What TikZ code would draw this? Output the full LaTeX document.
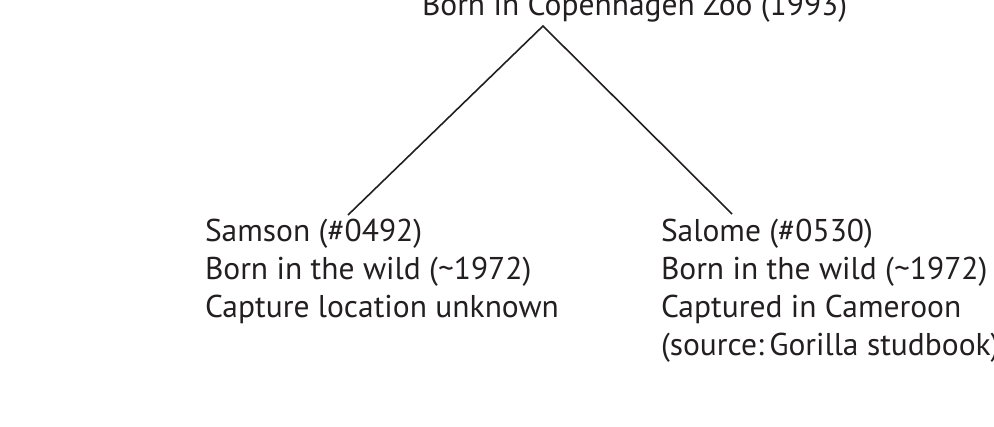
\documentclass[tikz,border=0pt]{standalone}
\usepackage{fontspec}
\setmainfont{PT Sans}
\definecolor{ink}{HTML}{231F20}
\begin{document}
\begin{tikzpicture}[x=1pt,y=-1pt,
  lbl/.style={inner sep=0pt, outer sep=0pt, align=left, text=ink, font=\fontsize{31.5}{38}\selectfont, anchor=base west},
  link/.style={draw=ink, line width=1.6pt}]
\useasboundingbox (0,0) rectangle (994,427);
\node[lbl] (top) at (422,16) {Born in Copenhagen Zoo (1993)};
\node[lbl] (samson) at (205,318) {Samson (\#0492)\\Born in the wild (\textasciitilde1972)\\Capture location unknown};
\node[lbl] (salome) at (661,356) {Salome (\#0530)\\Born in the wild (\textasciitilde1972)\\Captured in Cameroon\\(source:\,Gorilla studbook)};
\coordinate (apex) at (543,26);
\coordinate (sEnd) at (348,215);
\coordinate (rEnd) at (732,214);
\draw[link] (sEnd) -- (apex) -- (rEnd);
\end{tikzpicture}
\end{document}
